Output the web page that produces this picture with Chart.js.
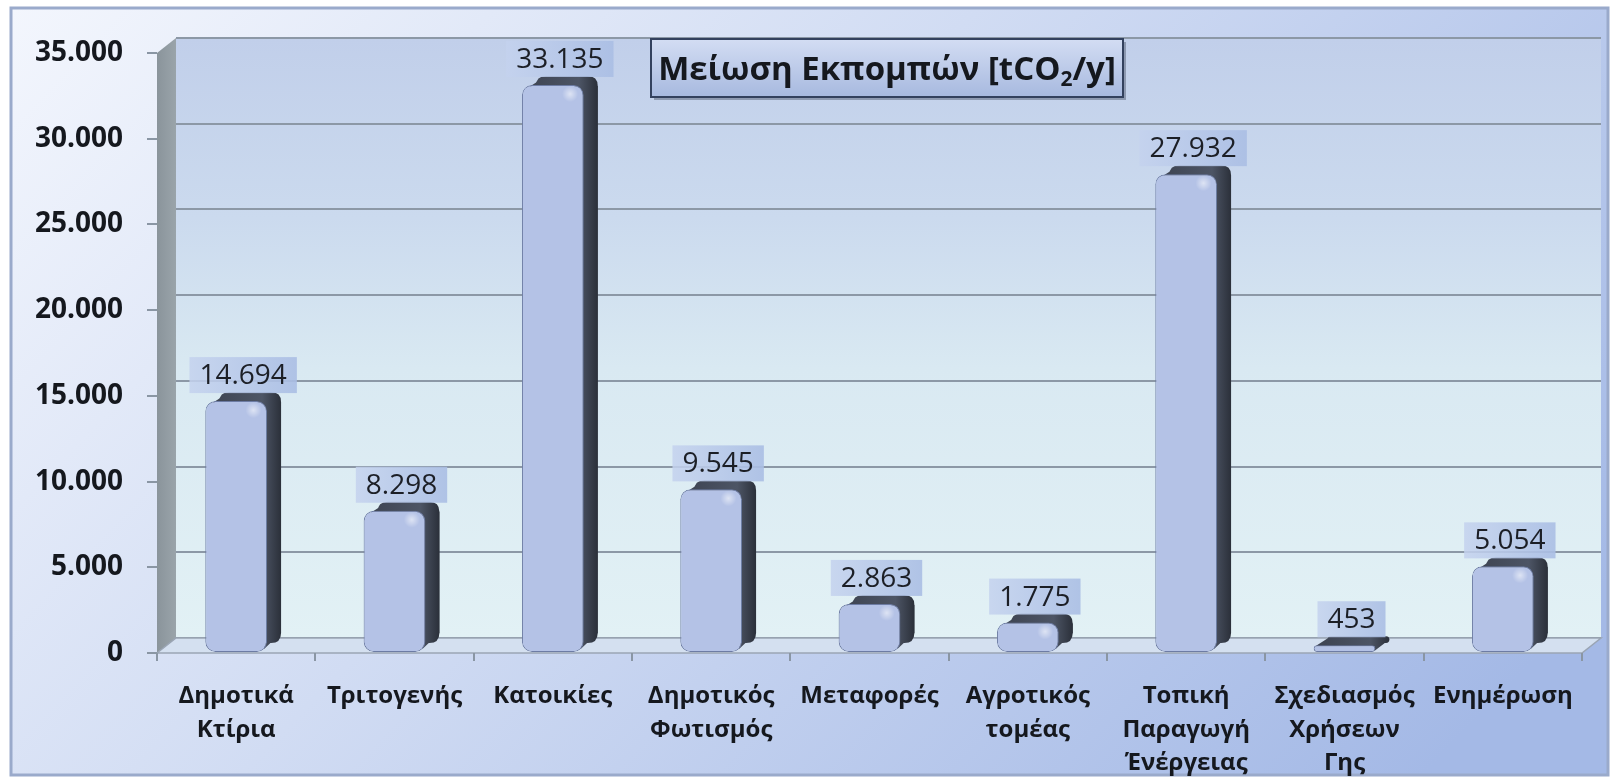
<!DOCTYPE html>
<html>
<head>
<meta charset="utf-8">
<script src="https://cdn.jsdelivr.net/npm/chart.js@4.4.1/dist/chart.umd.min.js"></script>
<style>
  html, body { margin: 0; padding: 0; background: #ffffff; }
  #c { display: block; }
</style>
</head>
<body>
<canvas id="c" width="1614" height="779"></canvas>
<script>
const categories = [
  ["Δημοτικά", "Κτίρια"],
  ["Τριτογενής"],
  ["Κατοικίες"],
  ["Δημοτικός", "Φωτισμός"],
  ["Μεταφορές"],
  ["Αγροτικός", "τομέας"],
  ["Τοπική", "Παραγωγή", "Ένέργειας"],
  ["Σχεδιασμός", "Χρήσεων", "Γης"],
  ["Ενημέρωση"]
];
const values = [14694, 8298, 33135, 9545, 2863, 1775, 27932, 453, 5054];
const yMin = 0, yMax = 35000, yStep = 5000;
const titleParts = ["Μείωση Εκπομπών [tCO", "2", "/y]"];

function fmt(v) {
  return String(Math.round(v)).replace(/\B(?=(\d{3})+(?!\d))/g, ".");
}

const DX = 19, DY = -15;      // wall depth
const BDX = 14, BDY = -9;     // bar depth
const FONT = "'Open Sans', 'DejaVu Sans', sans-serif";

const backgroundPlugin = {
  id: 'bg3d',
  beforeDraw(chart) {
    const ctx = chart.ctx;
    const W = chart.width, H = chart.height;
    ctx.save();
    ctx.fillStyle = '#ffffff';
    ctx.fillRect(0, 0, W, H);
    const fx = 11, fy = 8, fw = 1597, fh = 767;
    const g = ctx.createLinearGradient(fx, fy, fx + fw * 0.7, fy + fh * 1.4);
    g.addColorStop(0, '#f3f6fd');
    g.addColorStop(0.45, '#d1dcf3');
    g.addColorStop(1, '#a4b9e6');
    ctx.fillStyle = g;
    ctx.fillRect(fx, fy, fw, fh);
    ctx.strokeStyle = '#9aaacb';
    ctx.lineWidth = 3;
    ctx.strokeRect(fx, fy, fw, fh);

    const ca = chart.chartArea;
    const ys = chart.scales.y;
    const L = ca.left, R = ca.right, T = ca.top, B = ca.bottom;

    // back wall
    const wg = ctx.createLinearGradient(0, T + DY, 0, B + DY);
    wg.addColorStop(0, '#c1cfea');
    wg.addColorStop(0.3, '#cbdaee');
    wg.addColorStop(0.55, '#d9e9f2');
    wg.addColorStop(1, '#e2f1f5');
    ctx.fillStyle = wg;
    ctx.fillRect(L + DX, T + DY, R - L, B - T);

    // gridlines on back wall
    ctx.strokeStyle = '#8c98a6';
    ctx.lineWidth = 2;
    for (let v = yMin; v <= yMax; v += yStep) {
      const py = Math.round(ys.getPixelForValue(v)) + DY;
      ctx.beginPath();
      ctx.moveTo(L + DX, py);
      ctx.lineTo(R + DX, py);
      ctx.stroke();
    }

    // left wall
    const lg = ctx.createLinearGradient(L, 0, L + DX, 0);
    lg.addColorStop(0, '#8a949b');
    lg.addColorStop(1, '#9aa4aa');
    ctx.fillStyle = lg;
    ctx.beginPath();
    ctx.moveTo(L, T);
    ctx.lineTo(L + DX, T + DY);
    ctx.lineTo(L + DX, B + DY);
    ctx.lineTo(L, B);
    ctx.closePath();
    ctx.fill();

    // floor
    ctx.fillStyle = '#d4e0f0';
    ctx.beginPath();
    ctx.moveTo(L, B);
    ctx.lineTo(L + DX, B + DY);
    ctx.lineTo(R + DX, B + DY);
    ctx.lineTo(R, B);
    ctx.closePath();
    ctx.fill();
    ctx.strokeStyle = '#9aa5b4';
    ctx.lineWidth = 1.5;
    ctx.stroke();
    ctx.restore();
  }
};

function roundRectPath(ctx, x, y, w, h, r) {
  r = Math.max(0, Math.min(r, h / 2, w / 2));
  ctx.beginPath();
  ctx.moveTo(x + r, y);
  ctx.lineTo(x + w - r, y);
  ctx.quadraticCurveTo(x + w, y, x + w, y + r);
  ctx.lineTo(x + w, y + h - r);
  ctx.quadraticCurveTo(x + w, y + h, x + w - r, y + h);
  ctx.lineTo(x + r, y + h);
  ctx.quadraticCurveTo(x, y + h, x, y + h - r);
  ctx.lineTo(x, y + r);
  ctx.quadraticCurveTo(x, y, x + r, y);
  ctx.closePath();
}

const depthPlugin = {
  id: 'depth3d',
  beforeDatasetsDraw(chart) {
    const ctx = chart.ctx;
    const meta = chart.getDatasetMeta(0);
    ctx.save();
    meta.data.forEach(bar => {
      const w = bar.width;
      const L = bar.x - w / 2, R = bar.x + w / 2;
      const T = bar.y, B = bar.base;
      const h = B - T;
      const r = Math.min(10, h / 2);
      const g = ctx.createLinearGradient(L, 0, R + BDX, 0);
      g.addColorStop(0, '#3c4250');
      g.addColorStop(0.75, '#4d5565');
      g.addColorStop(1, '#2b303a');
      ctx.fillStyle = g;
      roundRectPath(ctx, L + BDX, T + BDY, w, h, r);
      ctx.fill();
      ctx.beginPath();
      ctx.moveTo(L + r * 0.4, T + r * 0.4);
      ctx.lineTo(L + BDX + r * 0.4, T + BDY + r * 0.4);
      ctx.lineTo(R + BDX, T + BDY + r);
      ctx.lineTo(R + BDX, B + BDY - r);
      ctx.lineTo(R - r * 0.3, B - r * 0.3);
      ctx.lineTo(R - 1, T + 1);
      ctx.closePath();
      ctx.fill();
    });
    ctx.restore();
  },
  afterDatasetsDraw(chart) {
    // soft highlight on the front faces
    const ctx = chart.ctx;
    const meta = chart.getDatasetMeta(0);
    ctx.save();
    meta.data.forEach(bar => {
      const w = bar.width;
      const T = bar.y, B = bar.base;
      const h = B - T;
      if (h < 14) return;
      const hx = bar.x + w * 0.28, hy = T + 9;
      const rg = ctx.createRadialGradient(hx, hy, 0, hx, hy, 8);
      rg.addColorStop(0, 'rgba(255,255,255,0.55)');
      rg.addColorStop(1, 'rgba(255,255,255,0)');
      ctx.fillStyle = rg;
      ctx.fillRect(hx - 9, hy - 9, 18, 18);
    });
    ctx.restore();
  }
};

const labelPlugin = {
  id: 'labels3d',
  afterDatasetsDraw(chart) {
    const ctx = chart.ctx;
    const meta = chart.getDatasetMeta(0);
    ctx.save();
    ctx.font = "28px " + FONT;
    ctx.textAlign = 'center';
    ctx.textBaseline = 'middle';
    meta.data.forEach((bar, i) => {
      const txt = fmt(values[i]);
      const tw = ctx.measureText(txt).width;
      const cx = bar.x + BDX / 2;
      const bw = tw + 20, bh = 36;
      const bottom = bar.y - 8;
      const bx = cx - bw / 2, by = bottom - bh;
      const g = ctx.createLinearGradient(bx, 0, bx + bw, 0);
      g.addColorStop(0, 'rgba(196,210,238,0.85)');
      g.addColorStop(1, 'rgba(170,190,228,0.9)');
      ctx.fillStyle = g;
      ctx.fillRect(bx, by, bw, bh);
      ctx.fillStyle = '#1c1f26';
      ctx.fillText(txt, cx, by + bh / 2 + 1);
    });

    // title box
    const bx = 651, by = 39, bw = 472, bh = 58;
    const tg = ctx.createLinearGradient(0, by, 0, by + bh);
    tg.addColorStop(0, '#d3ddf3');
    tg.addColorStop(1, '#a7b9df');
    ctx.fillStyle = 'rgba(40,50,70,0.35)';
    ctx.fillRect(bx + 3, by + 3, bw, bh);
    ctx.fillStyle = tg;
    ctx.fillRect(bx, by, bw, bh);
    ctx.strokeStyle = '#33415e';
    ctx.lineWidth = 2;
    ctx.strokeRect(bx, by, bw, bh);

    const size = 33, subSize = 21;
    ctx.textAlign = 'left';
    ctx.textBaseline = 'alphabetic';
    ctx.font = "bold " + size + "px " + FONT;
    const w1 = ctx.measureText(titleParts[0]).width;
    const w3 = ctx.measureText(titleParts[2]).width;
    ctx.font = "bold " + subSize + "px " + FONT;
    const w2 = ctx.measureText(titleParts[1]).width;
    const total = w1 + w2 + w3;
    let x = bx + (bw - total) / 2;
    const base = by + bh / 2 + 12;
    ctx.fillStyle = '#15181e';
    ctx.font = "bold " + size + "px " + FONT;
    ctx.fillText(titleParts[0], x, base);
    x += w1;
    ctx.font = "bold " + subSize + "px " + FONT;
    ctx.fillText(titleParts[1], x, base + 6);
    x += w2;
    ctx.font = "bold " + size + "px " + FONT;
    ctx.fillText(titleParts[2], x, base);
    ctx.restore();
  }
};

function barGradient(context) {
  const chart = context.chart;
  const el = context.element;
  if (!chart.chartArea || !el || !el.width) return '#b4c2e6';
  const L = el.x - el.width / 2, R = el.x + el.width / 2;
  const g = chart.ctx.createLinearGradient(L, 0, R, 0);
  g.addColorStop(0, '#8c9cc6');
  g.addColorStop(0.15, '#aab8de');
  g.addColorStop(0.55, '#c2cdea');
  g.addColorStop(0.82, '#dce4f6');
  g.addColorStop(1, '#a7b5da');
  return g;
}

new Chart(document.getElementById('c'), {
  type: 'bar',
  data: {
    labels: categories,
    datasets: [{
      data: values,
      backgroundColor: barGradient,
      borderColor: '#6d7ca4',
      borderWidth: 1,
      borderRadius: 10,
      borderSkipped: false,
      barPercentage: 0.78,
      categoryPercentage: 0.5
    }]
  },
  options: {
    responsive: false,
    animation: false,
    devicePixelRatio: 1,
    layout: { padding: { top: 53, right: 32, left: 0, bottom: 0 } },
    plugins: { legend: { display: false }, tooltip: { enabled: false }, title: { display: false } },
    scales: {
      y: {
        min: yMin, max: yMax,
        ticks: {
          stepSize: yStep,
          callback: v => fmt(v),
          font: { family: FONT, size: 28, weight: 'bold' },
          color: '#15181e',
          padding: 24
        },
        grid: { drawOnChartArea: false, drawTicks: true, tickLength: 10, color: '#8a96a4', lineWidth: 2 },
        border: { display: false },
        afterFit: s => { s.width = 157; }
      },
      x: {
        offset: true,
        ticks: {
          font: { family: FONT, size: 24, weight: 'bold', lineHeight: 1.38 },
          color: '#15181e',
          padding: 19,
          maxRotation: 0,
          autoSkip: false
        },
        grid: { drawOnChartArea: false, drawTicks: true, tickLength: 8, color: '#8a96a4', lineWidth: 2, offset: true },
        border: { display: false },
        afterFit: s => { s.height = 126; }
      }
    }
  },
  plugins: [backgroundPlugin, depthPlugin, labelPlugin]
});
</script>
</body>
</html>
